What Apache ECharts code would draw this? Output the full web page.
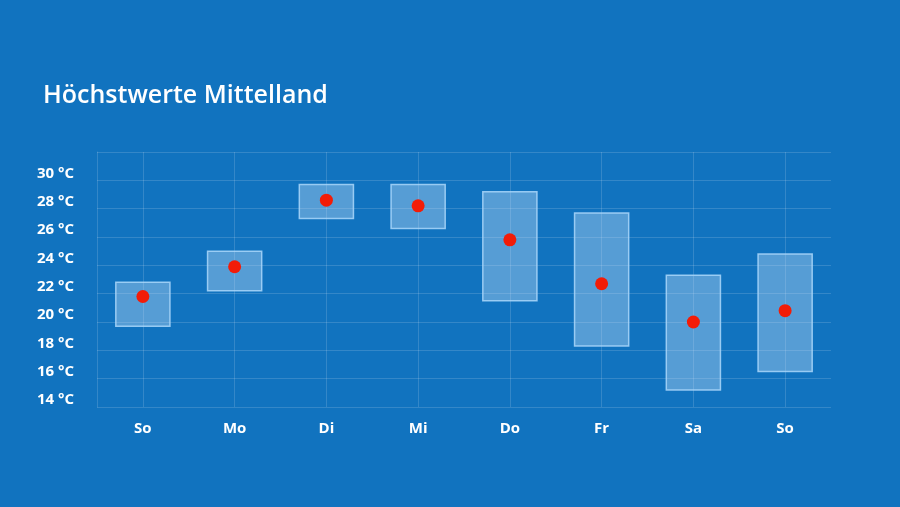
<!DOCTYPE html>
<html>
<head>
<meta charset="utf-8">
<script src="https://cdn.jsdelivr.net/npm/echarts@6/dist/echarts.min.js"></script>
<style>
html,body{margin:0;padding:0;background:#1173bf;}
#c{width:900px;height:507px;}
</style>
</head>
<body>
<div id="c"></div>
<script>
const days = ['So', 'Mo', 'Di', 'Mi', 'Do', 'Fr', 'Sa', 'So'];
const lows = [19.7, 22.2, 27.3, 26.6, 21.5, 18.3, 15.2, 16.5];
const highs = [22.8, 25.0, 29.7, 29.7, 29.2, 27.7, 23.3, 24.8];
const values = [21.8, 23.9, 28.6, 28.2, 25.8, 22.7, 20.0, 20.8];
const yTicks = { min: 14, max: 32, step: 2, unit: ' °C' };

const chart = echarts.init(document.getElementById('c'));
const gridLine = 'rgba(255,255,255,0.15)';
const font = '"Open Sans", "Noto Sans", sans-serif';

chart.setOption({
  backgroundColor: '#1173bf',
  animation: false,
  title: {
    text: 'Höchstwerte Mittelland',
    left: 38, top: 78,
    textStyle: { color: '#ffffff', fontSize: 25, fontWeight: 600, fontFamily: font }
  },
  grid: { left: 97, right: 69, top: 152, bottom: 100 },
  xAxis: {
    type: 'category',
    data: days,
    boundaryGap: true,
    axisLine: { show: false },
    axisTick: { show: false },
    axisLabel: { color: '#ffffff', fontSize: 15, fontWeight: 700, fontFamily: font, margin: 14 },
    splitLine: { show: true, alignWithLabel: true, lineStyle: { color: gridLine } }
  },
  yAxis: {
    type: 'value',
    min: yTicks.min, max: yTicks.max, interval: yTicks.step,
    axisLine: { show: true, lineStyle: { color: gridLine } },
    axisTick: { show: false },
    axisLabel: {
      color: '#ffffff', fontSize: 15, fontWeight: 700, fontFamily: font, margin: 23,
      verticalAlign: 'bottom', lineHeight: 14, showMaxLabel: false,
      formatter: v => v + yTicks.unit
    },
    splitLine: { show: true, lineStyle: { color: gridLine } }
  },
  series: [
    {
      type: 'custom',
      data: days.map((d, i) => [i, lows[i], highs[i]]),
      encode: { x: 0, y: [1, 2] },
      renderItem: function (params, api) {
        const lo = api.coord([api.value(0), api.value(1)]);
        const hi = api.coord([api.value(0), api.value(2)]);
        const w = api.size([1, 0])[0] * 0.59;
        return {
          type: 'rect',
          shape: { x: lo[0] - w / 2, y: hi[1], width: w, height: lo[1] - hi[1] },
          style: { fill: 'rgba(200,225,250,0.38)', stroke: 'rgba(170,215,250,0.85)', lineWidth: 1.5 }
        };
      },
      z: 2
    },
    {
      type: 'scatter',
      data: days.map((d, i) => [i, values[i]]),
      symbol: 'circle',
      symbolSize: 13,
      itemStyle: { color: '#f21c08', opacity: 1 },
      z: 3
    }
  ]
});
</script>
</body>
</html>
